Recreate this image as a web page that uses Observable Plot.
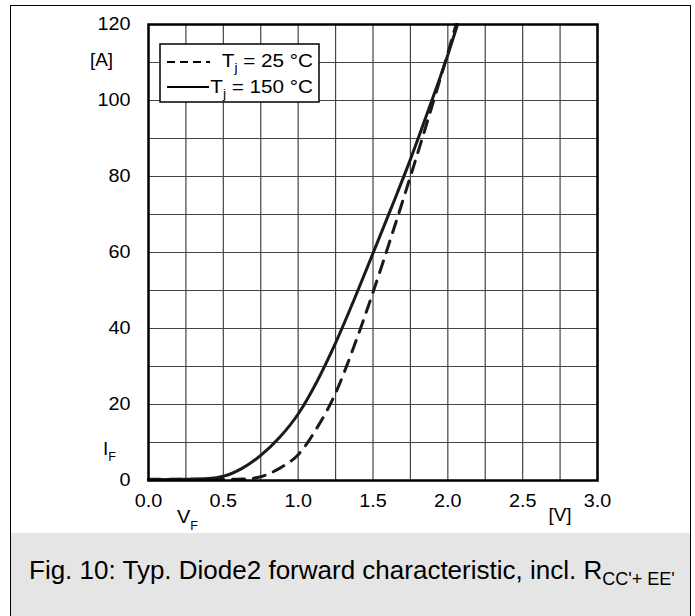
<!DOCTYPE html>
<html>
<head>
<meta charset="utf-8">
<script src="https://cdn.jsdelivr.net/npm/d3@7"></script>
<script src="https://cdn.jsdelivr.net/npm/@observablehq/plot@0.6"></script>
<style>
  body { margin: 0; background: #fff; font-family: "Liberation Sans", Arial, sans-serif; }
  #box { position: absolute; left: 10px; top: 5px; width: 679px; height: 640px;
         border: 1px solid #000; background: #fff; }
  #chart svg { display: block; }
  #caption { background: #e5e5e5; height: 120px; padding: 24px 0 0 18px; box-sizing: border-box;
             font-size: 26px; line-height: 26px; color: #000; white-space: nowrap; }
  #caption sub { font-size: 18px; vertical-align: -6px; line-height: 0; }
</style>
</head>
<body>
<div id="box">
  <div id="chart"></div>
  <div id="caption">Fig. 10: Typ. Diode2 forward characteristic, incl. R<sub>CC'+ EE'</sub></div>
</div>
<script>
// Forward voltage V_F [V] and current I_F [A], T_j = 150 °C (solid)
const vf150 = [0, 0.25, 0.4, 0.5, 0.625, 0.75, 0.875, 1.0, 1.125, 1.25, 1.375, 1.5, 1.625, 1.75, 1.875, 2.0, 2.065];
const if150 = [0.2, 0.3, 0.5, 1.1, 3.2, 6.6, 11.3, 17.5, 26, 36.2, 47.7, 59.8, 72, 84.5, 98, 112, 120];
// T_j = 25 °C (dashed)
const vf25 = [0, 0.5, 0.625, 0.7, 0.75, 0.875, 1.0, 1.125, 1.25, 1.375, 1.5, 1.625, 1.75, 1.875, 2.0, 2.055];
const if25 = [0.3, 0.3, 0.4, 0.6, 1.0, 3.2, 6.8, 13.8, 23, 35.5, 49.5, 64.5, 80, 96, 112.5, 120];
// ticks
const xTicks = [0, 0.5, 1.0, 1.5, 2.0, 2.5, 3.0];
const yTicks = [0, 20, 40, 60, 80, 100, 120];
const xGrid = [0, 0.25, 0.5, 0.75, 1.0, 1.25, 1.5, 1.75, 2.0, 2.25, 2.5, 2.75, 3.0];
const yGrid = [0, 10, 20, 30, 40, 50, 60, 70, 80, 90, 100, 110, 120];
const seriesNames = ["25 °C", "150 °C"];

const d150 = vf150.map((v, k) => ({v, i: if150[k]}));
const d25 = vf25.map((v, k) => ({v, i: if25[k]}));

const font = '"Liberation Sans", Arial, sans-serif';
const plot = Plot.plot({
  width: 679, height: 527,
  marginLeft: 137, marginRight: 93, marginTop: 18, marginBottom: 53,
  x: {domain: [0, 3]},
  y: {domain: [0, 120]},
  style: {fontFamily: font, fontSize: "18px", color: "#000", background: "#fff", overflow: "visible"},
  marks: [
    Plot.gridX(xGrid, {stroke: "#444", strokeOpacity: 1, strokeWidth: 1.2}),
    Plot.gridY(yGrid, {stroke: "#444", strokeOpacity: 1, strokeWidth: 1.2}),
    Plot.axisX(xTicks, {tickSize: 0, tickPadding: 14, tickFormat: d => d.toFixed(1), fontSize: 18, label: null, className: "tx"}),
    Plot.axisY(yTicks, {tickSize: 0, tickPadding: 18, fontSize: 18, label: null, className: "ty"}),
    Plot.line(d25, {x: "v", y: "i", curve: "monotone-x", stroke: "#1a1a1a", strokeWidth: 3, strokeDasharray: "12,9"}),
    Plot.line(d150, {x: "v", y: "i", curve: "monotone-x", stroke: "#1a1a1a", strokeWidth: 3}),
    Plot.frame({stroke: "#000", strokeWidth: 2.5})
  ]
});
document.getElementById("chart").appendChild(plot);

const svg = d3.select(plot);
// tick label glyphs: slight horizontal widening like the reference
svg.selectAll(".tx text, .ty text").each(function() {
  const t = this.getAttribute("transform") || "";
  this.setAttribute("transform", t + " scale(1.1,1)");
});
function subText(g, x, y, main, sub, rest, anchor, size, subSize, subDy, sx) {
  const t = g.append("text").attr("transform", `translate(${x},${y}) scale(${sx},1)`)
    .attr("text-anchor", anchor)
    .attr("font-family", font).attr("font-size", size).attr("fill", "#000");
  t.append("tspan").text(main);
  t.append("tspan").attr("font-size", subSize).attr("dy", subDy).text(sub);
  if (rest) t.append("tspan").attr("dy", -subDy).text(rest);
  return t;
}
function plain(g, x, y, s, anchor, size, sx) {
  return g.append("text").attr("transform", `translate(${x},${y}) scale(${sx},1)`)
    .attr("text-anchor", anchor).attr("font-family", font).attr("font-size", size)
    .attr("fill", "#000").text(s);
}
// legend
const lg = svg.append("g");
lg.append("rect").attr("x", 149).attr("y", 38).attr("width", 159).attr("height", 58)
  .attr("fill", "#fff").attr("stroke", "#000").attr("stroke-width", 1.5);
lg.append("line").attr("x1", 156).attr("x2", 199).attr("y1", 56).attr("y2", 56)
  .attr("stroke", "#000").attr("stroke-width", 2).attr("stroke-dasharray", "8,5");
lg.append("line").attr("x1", 156).attr("x2", 198).attr("y1", 81).attr("y2", 81)
  .attr("stroke", "#000").attr("stroke-width", 2);
subText(lg, 302, 61, "T", "j", " = " + seriesNames[0], "end", 18, 12, 5, 1.15);
subText(lg, 302, 87, "T", "j", " = " + seriesNames[1], "end", 18, 12, 5, 1.15);
// axis labels
plain(svg, 102, 60, "[A]", "end", 18, 1.05);
subText(svg, 92, 449, "I", "F", null, "start", 18, 12, 6, 1.05);
subText(svg, 166, 517, "V", "F", null, "start", 19, 12, 7, 1.05);
plain(svg, 549, 515, "[V]", "middle", 18, 1.05);
</script>
</body>
</html>
